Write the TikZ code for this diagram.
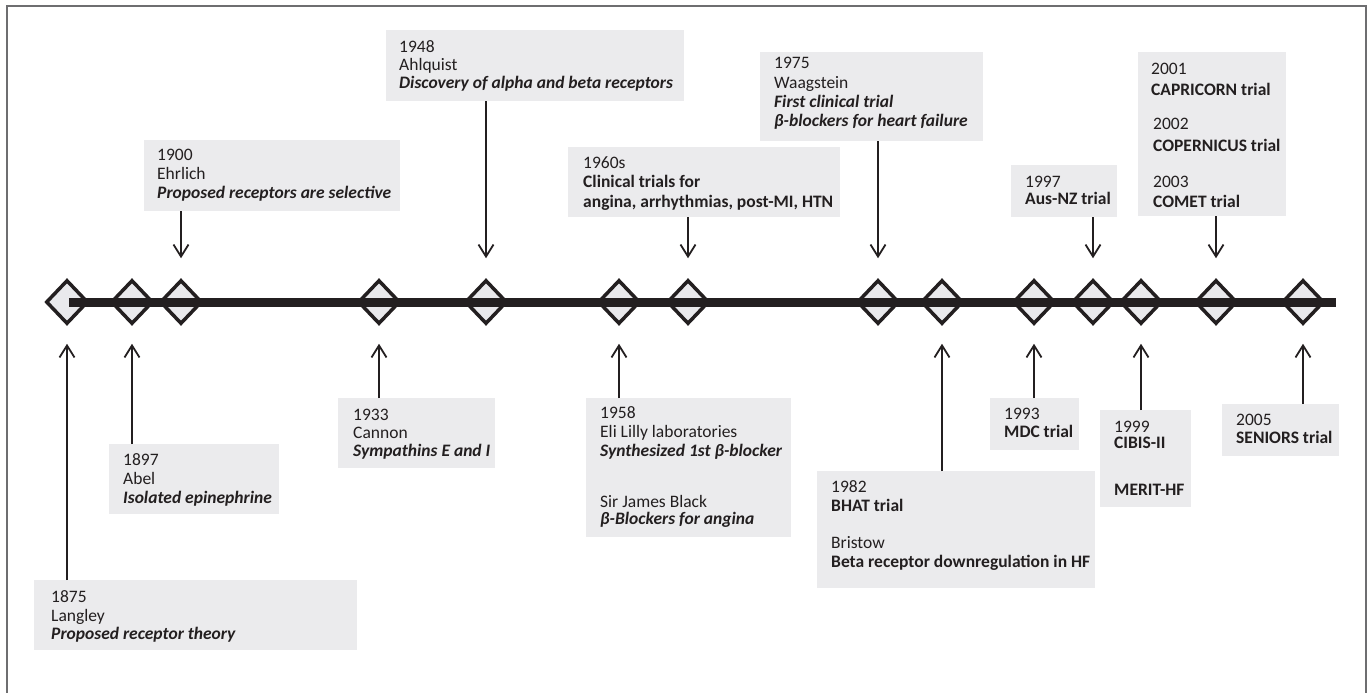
\documentclass[tikz,border=0pt]{standalone}
\usepackage{fontspec}
\setmainfont{Carlito}
\usetikzlibrary{shapes.geometric,arrows.meta}

\definecolor{inkblack}{RGB}{35,31,32}
\definecolor{boxgray}{RGB}{235,235,237}
\definecolor{dmdgray}{RGB}{233,233,236}
\definecolor{framegray}{RGB}{110,110,112}

\newcommand{\evb}[1]{\textbf{#1}}
\newcommand{\evbi}[1]{\textbf{\textit{#1}}}
\newcommand{\evtop}[1]{\rule{0pt}{#1pt}}

\tikzset{
	evbox/.style={fill=boxgray, inner sep=0pt, outer sep=0pt, anchor=north west},
	evtext/.style={anchor=north west, inner sep=0pt, align=left, text=inkblack,
		font=\fontsize{17.5pt}{19pt}\selectfont},
	milestone/.style={diamond, draw=inkblack, fill=dmdgray, line width=3.5pt,
		minimum width=42pt, minimum height=44pt, inner sep=0pt},
	evarrow/.style={-{Straight Barb[length=12pt,width=15pt]}, line width=1.8pt, draw=inkblack},
	timebar/.style={line width=9pt, draw=inkblack}
}

\begin{document}
\begin{tikzpicture}[x=1pt, y=-1pt]
	\useasboundingbox (0,0) rectangle (1370,693);
	%frame
	\draw[framegray, line width=2pt] (7,710) -- (7,6) -- (1366,6) -- (1366,710);

	%boxes
	\foreach \n/\xa/\ya/\xb/\yb in {1875/34/580/357/650, 1897/109/444/279/514,
		1900/144/140/400/211, 1933/338/398/495/468, 1948/386/30/684/101,
		1958/586/398/791/537, 1960/568/147/840/217, 1975/760/52/983/141,
		1982/817/471/1095/588, 1993/990/398/1079/450, 1997/1011/165/1117/217,
		1999/1100/410/1191/507, 2001/1138/52/1286/216, 2005/1222/404/1339/456}{
		\node[evbox, minimum width={(\xb-\xa)*1pt}, minimum height={(\yb-\ya)*1pt}] (b\n) at (\xa,\ya) {};
	}

	%time line
	\foreach \n/\x in {1875/67, 1897/132, 1900/181, 1933/379, 1948/486, 1958/619,
		1960/688, 1975/878, 1982/942, 1993/1034, 1997/1093, 1999/1141, 2001/1216, 2005/1303}{
		\node[milestone] (d\n) at (\x,302) {};
	}
	\coordinate (tlend) at (1336,302);
	\draw[timebar] ([xshift=2pt]d1875.center) -- (tlend);

	%arrows
	\foreach \n in {1900, 1948, 1960, 1975, 1997, 2001}{
		\draw[evarrow, shorten >=20pt] (d\n |- b\n.south) -- (d\n.north);
	}
	\foreach \n in {1875, 1897, 1933, 1958, 1982, 1993, 1999, 2005}{
		\draw[evarrow, shorten >=18pt] (d\n |- b\n.north) -- (d\n.south);
	}

	%texts above the line
	\node[evtext] (t1900) at ([xshift=13pt]b1900.north west)
		{\evtop{20}1900\\Ehrlich\\\evbi{Proposed receptors are selective}};
	\node[evtext] (t1948) at ([xshift=13pt]b1948.north west)
		{\evtop{22}1948\\[-1pt]Ahlquist\\[-1pt]\evbi{Discovery of alpha and beta receptors}};
	\node[evtext] (t1960) at ([xshift=15pt]b1960.north west)
		{\evtop{21}1960s\\\evb{Clinical trials for}\\[1pt]\evb{angina, arrhythmias, post-MI, HTN}};
	\node[evtext] (t1975) at ([xshift=14pt]b1975.north west)
		{\evtop{16}1975\\[1pt]Waagstein\\\evbi{First clinical trial}\\\evbi{β-blockers for heart failure}};
	\node[evtext] (t1997) at ([xshift=14pt]b1997.north west)
		{\evtop{22}1997\\[-2pt]\evb{Aus-NZ trial}};
	\node[evtext] (t2001) at ([xshift=13pt]b2001.north west)
		{\evtop{22}2001\\[2pt]\evb{CAPRICORN trial}\\[15pt]\hspace{2pt}2002\\[3pt]\hspace{2pt}\evb{COPERNICUS trial}\\[17pt]\hspace{2pt}2003\\[1pt]\hspace{2pt}\evb{COMET trial}};

	%texts below the line
	\node[evtext] (t1875) at ([xshift=17pt]b1875.north west)
		{\evtop{22}1875\\Langley\\[-1pt]\evbi{Proposed receptor theory}};
	\node[evtext] (t1897) at ([xshift=14pt]b1897.north west)
		{\evtop{21}1897\\Abel\\\evbi{Isolated epinephrine}};
	\node[evtext] (t1933) at ([xshift=15pt]b1933.north west)
		{\evtop{22}1933\\[-1pt]Cannon\\[-1pt]\evbi{Sympathins E and I}};
	\node[evtext] (t1958) at ([xshift=14pt]b1958.north west)
		{\evtop{20}1958\\Eli Lilly laboratories\\\evbi{Synthesized 1st β-blocker}\\[32pt]Sir James Black\\[-2pt]\evbi{β-Blockers for angina}};
	\node[evtext] (t1982) at ([xshift=14pt]b1982.north west)
		{\evtop{21}1982\\\evb{BHAT trial}\\[18pt]Bristow\\\evb{Beta receptor downregulation in HF}};
	\node[evtext] (t1993) at ([xshift=14pt]b1993.north west)
		{\evtop{21}1993\\[-1pt]\evb{MDC trial}};
	\node[evtext] (t1999) at ([xshift=14pt]b1999.north west)
		{\evtop{22}1999\\[-3pt]\evb{CIBIS-II}\\[28pt]\evb{MERIT-HF}};
	\node[evtext] (t2005) at ([xshift=14pt]b2005.north west)
		{\evtop{21}2005\\[-1pt]\evb{SENIORS trial}};
\end{tikzpicture}
\end{document}
